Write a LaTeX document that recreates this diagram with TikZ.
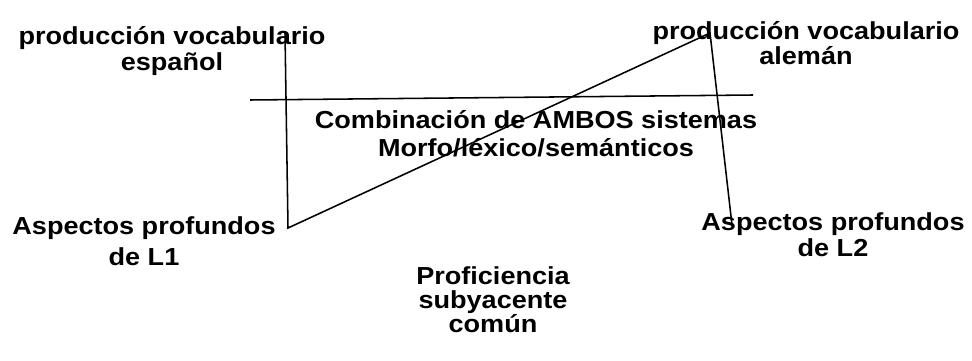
\documentclass[tikz,border=0pt]{standalone}
\usepackage{fontspec}
\setmainfont{Liberation Sans}[FakeStretch=1.1]
\usepackage{tikz}

\begin{document}
\begin{tikzpicture}[x=0.025cm, y=-0.025cm,
		tag/.style={font=\fontsize{17.5}{#1}\selectfont\bfseries, align=center, inner sep=0pt},
		tag/.default=18.5pt,
		rule/.style={line width=1.1pt}]
		\useasboundingbox (0,0) rectangle (972,361);

		% Labels
		\node[tag] (espanol) at (172,51) {producción vocabulario\\español};
		\node[tag=16pt] (aleman) at (806,43) {producción vocabulario\\alemán};
		\node[tag=20pt] (ambos) at (536,134) {Combinación de AMBOS sistemas\\Morfo/léxico/semánticos};
		\node[tag=22pt] (profL1) at (144,241) {Aspectos profundos\\de L1};
		\node[tag] (profL2) at (833,235) {Aspectos profundos\\de L2};
		\node[tag=17pt] (comun) at (493,300) {Proficiencia\\subyacente\\común};

		% Corners
		\coordinate (esptop) at (285,33);
		\coordinate (l1low) at (288,228);
		\coordinate (alemtop) at (710,33);
		\coordinate (l2low) at (732,225);
		\coordinate (lineleft) at (250,100);
		\coordinate (lineright) at (753,95);

		% Lines
		\draw[rule] (esptop) -- (l1low) -- (alemtop) -- (l2low);
		\draw[rule] (lineleft) -- (lineright);
	\end{tikzpicture}
\end{document}
